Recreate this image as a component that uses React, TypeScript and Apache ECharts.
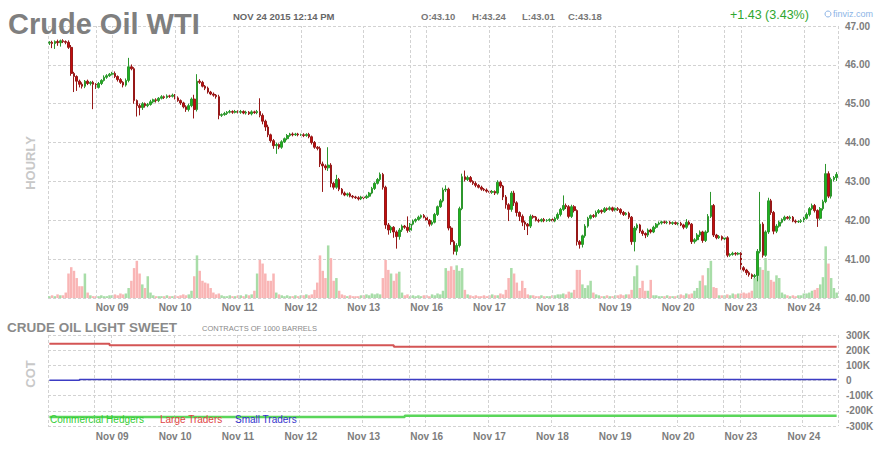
import React, { useEffect, useRef } from 'react';
import * as echarts from 'echarts';

const FONT = 'Arial, "Liberation Sans", Helvetica, sans-serif';

// trading sessions: [calendar date label, first hour, last hour]
const segments: [string, number, number][] = [
  ['Nov 06', 0, 16], ['Nov 08', 18, 23],
  ['Nov 09', 0, 16], ['Nov 09', 18, 23],
  ['Nov 10', 0, 16], ['Nov 10', 18, 23],
  ['Nov 11', 0, 16], ['Nov 11', 18, 23],
  ['Nov 12', 0, 16], ['Nov 12', 18, 23],
  ['Nov 13', 0, 16], ['Nov 15', 18, 23],
  ['Nov 16', 0, 16], ['Nov 16', 18, 23],
  ['Nov 17', 0, 16], ['Nov 17', 18, 23],
  ['Nov 18', 0, 16], ['Nov 18', 18, 23],
  ['Nov 19', 0, 16], ['Nov 19', 18, 23],
  ['Nov 20', 0, 16], ['Nov 22', 18, 23],
  ['Nov 23', 0, 16], ['Nov 23', 18, 23],
  ['Nov 24', 0, 12],
];

const firstOpen = 46.56;
const prevClose = 41.75;
const stamp = 'NOV 24 2015 12:14 PM';

// hourly closes
const closes = [
  // Nov 06
  46.58, 46.55, 46.60, 46.57, 46.62, 46.60, 46.58, 46.45, 45.78, 45.70, 45.58, 45.50, 45.45, 45.58, 45.52, 45.55, 45.50,
  // Nov 08 (Sun)
  45.42, 45.52, 45.60, 45.68, 45.72, 45.76,
  // Nov 09
  45.78, 45.70, 45.62, 45.55, 45.48, 45.60, 45.95, 45.90, 45.08, 44.95, 44.90, 45.00, 44.95, 44.98, 45.05, 45.10, 45.08, 45.14, 45.18, 45.16, 45.20, 45.19, 45.22,
  // Nov 10
  45.15, 45.08, 45.02, 44.92, 44.85, 44.95, 45.12, 44.85, 45.58, 45.55, 45.45, 45.40, 45.30, 45.25, 45.22, 45.18, 44.70, 44.72, 44.75, 44.78, 44.80, 44.78, 44.80,
  // Nov 11
  44.78, 44.80, 44.76, 44.78, 44.74, 44.79, 44.77, 44.80, 44.70, 44.55, 44.40, 44.20, 44.05, 43.92, 43.95, 43.88, 44.02, 44.10, 44.18, 44.22, 44.20, 44.22, 44.20,
  // Nov 12
  44.20, 44.18, 44.21, 44.15, 44.00, 43.88, 43.85, 43.45, 43.40, 43.35, 43.42, 42.95, 42.85, 43.05, 42.80, 42.70, 42.65, 42.68, 42.62, 42.60, 42.58, 42.55, 42.60,
  // Nov 13
  42.58, 42.62, 42.70, 42.82, 42.95, 43.05, 43.18, 42.85, 41.88, 41.75, 41.82, 41.70, 41.58, 41.75, 41.85, 41.82, 41.74,
  // Nov 15 (Sun)
  41.90, 41.98, 42.02, 42.08, 42.12, 42.08,
  // Nov 16
  42.00, 41.90, 41.95, 42.15, 42.35, 42.50, 42.78, 42.80, 41.80, 41.45, 41.20, 41.35, 42.30, 43.12, 43.05, 43.10, 43.00, 42.95, 42.90, 42.85, 42.80, 42.78, 42.75,
  // Nov 17
  42.72, 42.74, 42.70, 42.98, 42.88, 42.60, 42.40, 42.28, 42.70, 42.45, 42.20, 42.10, 41.95, 41.90, 41.85, 42.10, 42.08, 42.00, 41.98, 42.02, 41.99, 42.00, 42.02,
  // Nov 18
  41.98, 42.05, 42.15, 42.28, 42.38, 42.35, 42.10, 42.35, 42.25, 41.45, 41.38, 41.60, 41.85, 42.05, 42.12, 42.10, 42.20, 42.25, 42.22, 42.30, 42.28, 42.32, 42.26,
  // Nov 19
  42.30, 42.28, 42.20, 42.15, 42.18, 42.08, 41.45, 41.80, 41.88, 41.72, 41.66, 41.62, 41.75, 41.70, 41.82, 41.90, 41.93, 41.96, 41.94, 41.95, 41.92, 41.94, 41.91,
  // Nov 20
  41.92, 41.88, 41.82, 41.95, 41.90, 41.45, 41.50, 41.62, 41.70, 41.48, 41.70, 42.10, 42.38, 41.62, 41.55, 41.58, 41.52,
  // Nov 22 (Sun)
  41.55, 41.10, 41.12, 41.15, 41.13, 41.15,
  // Nov 23
  40.78, 40.72, 40.65, 40.60, 40.55, 40.58, 41.20, 41.90, 41.10, 41.70, 42.50, 42.20, 41.72, 41.85, 41.95, 42.02, 42.08, 42.05, 42.08, 41.98, 41.96, 41.97, 41.99,
  // Nov 24
  42.05, 42.15, 42.30, 42.38, 42.25, 42.05, 42.30, 42.48, 43.20, 42.62, 43.05, 43.10, 43.18,
];

// upper shadow above the body, in cents
const wickUp = [
  3, 4, 3, 5, 3, 4, 3, 5, 6, 4, 3, 4, 5, 3, 4, 3, 4,
  3, 4, 3, 5, 4, 3,
  4, 5, 3, 4, 3, 5, 23, 6, 4, 3, 5, 4, 3, 4, 5, 3, 4, 3, 4, 3, 4, 3, 4,
  3, 4, 3, 3, 4, 5, 4, 11, 18, 5, 4, 3, 4, 3, 4, 3, 5, 3, 4, 3, 4, 3, 4,
  3, 4, 3, 4, 3, 4, 3, 4, 34, 5, 4, 6, 3, 4, 5, 3, 4, 3, 4, 3, 4, 3, 3,
  3, 4, 3, 4, 3, 4, 3, 5, 6, 4, 46, 5, 4, 12, 4, 3, 4, 3, 4, 3, 3, 4, 3,
  3, 4, 3, 4, 3, 4, 5, 4, 4, 5, 4, 3, 4, 5, 4, 3, 28,
  3, 4, 3, 4, 3, 4,
  4, 3, 5, 4, 3, 5, 6, 10, 4, 5, 4, 6, 5, 8, 16, 5, 4, 3, 5, 3, 4, 3, 4,
  3, 4, 3, 5, 4, 3, 5, 4, 5, 6, 4, 3, 5, 4, 3, 5, 4, 3, 4, 3, 4, 3, 3,
  3, 4, 5, 4, 26, 5, 4, 5, 4, 3, 4, 3, 5, 4, 3, 4, 5, 4, 3, 4, 3, 4, 3,
  3, 4, 3, 4, 3, 4, 3, 5, 4, 3, 4, 3, 4, 3, 4, 3, 4, 3, 3, 4, 3, 3, 3,
  3, 4, 3, 8, 4, 3, 4, 5, 4, 3, 4, 6, 35, 4, 3, 4, 3,
  3, 4, 3, 4, 3, 3,
  3, 4, 3, 4, 3, 4, 6, 83, 5, 4, 8, 5, 4, 5, 4, 3, 4, 3, 4, 3, 4, 3, 4,
  4, 5, 4, 5, 4, 3, 4, 5, 25, 6, 5, 4, 6,
];

// lower shadow below the body, in cents
const wickDn = [
  5, 12, 14, 8, 10, 4, 5, 4, 6, 40, 25, 8, 6, 5, 4, 5, 64,
  4, 3, 4, 3, 4, 3,
  3, 4, 5, 4, 6, 4, 5, 4, 8, 28, 20, 6, 5, 4, 3, 4, 5, 4, 3, 4, 3, 4, 3,
  4, 3, 5, 4, 6, 5, 4, 23, 5, 4, 3, 5, 4, 3, 4, 5, 10, 4, 3, 4, 3, 4, 3,
  3, 4, 3, 4, 3, 4, 3, 4, 5, 8, 10, 6, 5, 8, 21, 5, 4, 3, 4, 3, 4, 3, 4,
  3, 4, 3, 4, 5, 4, 5, 8, 67, 6, 8, 10, 6, 4, 5, 4, 3, 4, 3, 4, 3, 4, 3,
  4, 3, 4, 3, 4, 3, 4, 6, 10, 12, 8, 15, 31, 8, 5, 4, 6,
  4, 3, 4, 3, 4, 3,
  5, 6, 4, 3, 4, 3, 4, 5, 6, 8, 8, 10, 5, 4, 5, 4, 3, 4, 5, 3, 4, 3, 4,
  3, 4, 5, 4, 5, 8, 10, 30, 6, 8, 10, 12, 10, 15, 23, 5, 4, 3, 4, 3, 4, 3, 4,
  4, 3, 4, 5, 4, 6, 5, 4, 5, 10, 11, 8, 5, 4, 3, 4, 3, 4, 5, 3, 4, 3, 4,
  3, 4, 5, 4, 3, 5, 8, 25, 6, 5, 6, 8, 5, 4, 3, 4, 3, 4, 3, 4, 3, 4, 3,
  4, 3, 5, 4, 3, 6, 5, 4, 5, 6, 4, 3, 4, 5, 4, 3, 4,
  4, 5, 4, 3, 4, 3,
  5, 4, 6, 5, 6, 4, 15, 5, 6, 4, 5, 6, 8, 5, 4, 3, 4, 3, 4, 3, 4, 3, 4,
  4, 3, 5, 4, 5, 22, 4, 5, 4, 5, 6, 5, 9,
];

// hourly volume, thousands of contracts
const volumes = [
  2, 3, 2, 4, 3, 3, 6, 27, 34, 30, 22, 13, 13, 27, 6, 3, 2,
  2, 2, 3, 2, 2, 3,
  3, 4, 3, 5, 4, 5, 11, 19, 33, 41, 27, 15, 11, 24, 6, 3, 2, 2, 2, 2, 3, 2, 2,
  3, 2, 3, 4, 3, 4, 8, 24, 47, 30, 19, 17, 16, 11, 6, 4, 5, 3, 2, 2, 3, 2, 2,
  3, 3, 2, 4, 3, 4, 8, 27, 42, 38, 27, 19, 19, 27, 6, 4, 3, 2, 3, 2, 2, 3, 2,
  3, 3, 4, 3, 4, 9, 17, 47, 30, 22, 58, 44, 19, 22, 8, 4, 3, 2, 3, 2, 2, 2, 3,
  3, 4, 3, 5, 4, 5, 4, 22, 42, 31, 27, 19, 27, 29, 6, 3, 4,
  2, 3, 2, 3, 2, 3,
  3, 2, 4, 3, 5, 4, 8, 33, 30, 35, 31, 36, 30, 33, 9, 4, 3, 2, 3, 2, 2, 3, 2,
  3, 4, 3, 3, 5, 4, 9, 22, 33, 27, 17, 8, 19, 11, 4, 3, 3, 2, 2, 3, 2, 2, 2,
  3, 3, 4, 4, 5, 4, 7, 6, 9, 31, 31, 15, 11, 14, 19, 6, 4, 3, 2, 2, 3, 2, 2,
  3, 3, 4, 3, 4, 4, 9, 24, 36, 11, 19, 8, 8, 20, 3, 3, 2, 2, 2, 3, 2, 2, 2,
  3, 4, 3, 5, 4, 5, 8, 11, 19, 25, 14, 33, 41, 12, 11, 3, 3,
  3, 4, 3, 5, 4, 5,
  5, 6, 5, 6, 8, 22, 40, 34, 31, 44, 30, 20, 18, 25, 22, 6, 4, 3, 2, 3, 2, 3, 3,
  5, 5, 6, 8, 9, 11, 15, 23, 57, 38, 22, 11, 6,
];

// COT positions (contracts), step changes at the given bar
const cotLarge: [string, number][] = [['Nov 06 00:00', 242000], ['Nov 08 23:00', 232000], ['Nov 13 11:00', 223000], ['Nov 24 12:00', 223000]];
const cotSmall: [string, number][] = [['Nov 06 00:00', 1000], ['Nov 06 11:00', 7000], ['Nov 24 12:00', 7000]];
const cotCommercial: [string, number][] = [['Nov 06 00:00', -240000], ['Nov 13 15:00', -233000], ['Nov 24 12:00', -233000]];

const priceMin = 40, priceMax = 47, priceStep = 1;
const cotMin = -300000, cotMax = 300000, cotStep = 100000;
const volMax = 300;

const GRID = '#d2d2d2';
const DASH = [3, 2];
const UP = '#1db51d';
const DOWN = '#c40d0d';

// plot frames (layout)
const P1 = { left: 48, top: 26, width: 790, height: 272 };
const P2 = { left: 48, top: 335, width: 790, height: 91 };

const categories: string[] = [];
const hourOf: number[] = [];
const dateOf: string[] = [];
segments.forEach(([d, h0, h1]) => {
  for (let h = h0; h <= h1; h++) {
    categories.push(`${d} ${String(h).padStart(2, '0')}:00`);
    hourOf.push(h);
    dateOf.push(d);
  }
});
const labelSet = new Set<number>();
const splitIdx: number[] = [];
hourOf.forEach((h, i) => {
  if (h === 0 && i > 0) { labelSet.add(i); splitIdx.push(i); }
  if (h === 18 && i > 0 && dateOf[i - 1] !== dateOf[i]) splitIdx.push(i);
});

const r2 = (v: number) => Math.round(v * 100) / 100;
const candles = closes.map((c, i) => {
  const o = i === 0 ? firstOpen : closes[i - 1];
  return [o, c, r2(Math.min(o, c) - wickDn[i] / 100), r2(Math.max(o, c) + wickUp[i] / 100)];
});
const last = candles[candles.length - 1];
const change = last[1] - prevClose;
const changePct = (change / prevClose) * 100;

const cotPts = (arr: [string, number][]) => arr.map(([n, v]) => [categories.indexOf(n), v]);

const axisLabelStyle = { color: '#7d7d7d', fontSize: 10, fontWeight: 'bold' as const, fontFamily: FONT };

const xAxisBase = (gridIndex: number, margin: number) => ({
  type: 'category' as const,
  gridIndex,
  data: categories,
  boundaryGap: true,
  axisLine: { show: false },
  axisTick: { show: false },
  axisLabel: {
    ...axisLabelStyle,
    margin,
    interval: (i: number) => labelSet.has(i),
    formatter: (v: string) => v.slice(0, 6),
  },
  splitLine: { show: false },
});

const vLine = (x: number, top: number, height: number) => ({
  type: 'line', silent: true, z: 0,
  shape: { x1: x, y1: top, x2: x, y2: top + height },
  style: { stroke: GRID, lineWidth: 1, lineDash: DASH },
});

const frameSides = (p: { left: number; top: number; width: number; height: number }) =>
  [p.left + 0.5, p.left + p.width + 0.5].map((x) => vLine(x, p.top, p.height));

const txt = (x: number, y: number, text: string, font: string, fill: string, extra: any = {}) => ({
  type: 'text', x, y, silent: true, z: 10,
  style: { text, font, fill, align: 'left', verticalAlign: 'middle' },
  ...extra,
});

const baseGraphics: any[] = [
  ...frameSides(P1),
  ...frameSides(P2),
  txt(8, 24, 'Crude Oil WTI', `bold 29px ${FONT}`, '#7f7f7f'),
  txt(233, 16, stamp, `bold 9.5px ${FONT}`, '#666666'),
  txt(421, 16, `O:${last[0].toFixed(2)}`, `bold 9.5px ${FONT}`, '#777777'),
  txt(472, 16, `H:${last[3].toFixed(2)}`, `bold 9.5px ${FONT}`, '#777777'),
  txt(522, 16, `L:${last[2].toFixed(2)}`, `bold 9.5px ${FONT}`, '#777777'),
  txt(568, 16, `C:${last[1].toFixed(2)}`, `bold 9.5px ${FONT}`, '#777777'),
  txt(730, 15, `${change >= 0 ? '+' : ''}${change.toFixed(2)} (${changePct.toFixed(2)}%)`, `12.5px ${FONT}`, '#2ea62e'),
  { type: 'circle', silent: true, z: 10, shape: { cx: 828, cy: 14, r: 3 }, style: { fill: 'none', stroke: '#8cb4e6', lineWidth: 1 } },
  txt(833, 14, 'finviz.com', `9px ${FONT}`, '#8cb4e6'),
  txt(30, 163, 'HOURLY', `bold 13px ${FONT}`, '#c8c8c8', { rotation: Math.PI / 2, style: { text: 'HOURLY', font: `bold 13px ${FONT}`, fill: '#c8c8c8', align: 'center', verticalAlign: 'middle' } }),
  txt(7, 327, 'CRUDE OIL LIGHT SWEET', `bold 13.5px ${FONT}`, '#8a8a8a'),
  txt(202, 328.5, 'CONTRACTS OF 1000 BARRELS', `7.5px ${FONT}`, '#8a8a8a'),
  txt(30.5, 374, 'COT', `bold 13px ${FONT}`, '#c8c8c8', { rotation: Math.PI / 2, style: { text: 'COT', font: `bold 13px ${FONT}`, fill: '#c8c8c8', align: 'center', verticalAlign: 'middle' } }),
  txt(50, 419, 'Commercial Hedgers', `10px ${FONT}`, '#33cc33'),
  txt(160, 419, 'Large Traders', `10px ${FONT}`, '#e04444'),
  txt(235, 419, 'Small Traders', `10px ${FONT}`, '#3333cc'),
];

export default function App() {
  const ref = useRef<HTMLDivElement>(null);
  useEffect(() => {
    document.body.style.margin = '0';
    const chart = echarts.init(ref.current!, undefined, { renderer: 'svg', width: 880, height: 450 });
    const option: any = {
      animation: false,
      backgroundColor: '#ffffff',
      textStyle: { fontFamily: FONT },
      grid: [
        { left: P1.left, width: P1.width, top: P1.top, height: P1.height },
        { left: P2.left, width: P2.width, top: P2.top, height: P2.height },
      ],
      xAxis: [xAxisBase(0, 4), xAxisBase(1, 5)],
      yAxis: [
        {
          type: 'value', gridIndex: 0, position: 'right', min: priceMin, max: priceMax, interval: priceStep,
          axisLine: { show: false }, axisTick: { show: false },
          axisLabel: { ...axisLabelStyle, margin: 7, formatter: (v: number) => v.toFixed(2) },
          splitLine: { lineStyle: { color: GRID, type: DASH } },
        },
        { type: 'value', gridIndex: 0, min: 0, max: volMax, show: false, splitLine: { show: false } },
        {
          type: 'value', gridIndex: 1, position: 'right', min: cotMin, max: cotMax, interval: cotStep,
          axisLine: { show: false }, axisTick: { show: false },
          axisLabel: { ...axisLabelStyle, margin: 8, formatter: (v: number) => (v === 0 ? '0' : `${v / 1000}K`) },
          splitLine: { lineStyle: { color: GRID, type: DASH } },
        },
      ],
      series: [
        {
          type: 'bar', xAxisIndex: 0, yAxisIndex: 1, silent: true, barCategoryGap: '8%', z: 1,
          data: volumes.map((v, i) => ({
            value: v,
            itemStyle: { color: candles[i][1] >= candles[i][0] ? '#a8dda8' : '#f9b5b5' },
          })),
          markLine: {
            silent: true, symbol: 'none',
            label: { show: false },
            lineStyle: { color: GRID, type: DASH, width: 1 },
            data: splitIdx.map((i) => ({ xAxis: i })),
          },
        },
        {
          type: 'candlestick', xAxisIndex: 0, yAxisIndex: 0, silent: true, barWidth: '78%', z: 3,
          data: candles,
          itemStyle: { color: UP, color0: DOWN, borderColor: '#2c962c', borderColor0: '#961818', borderWidth: 1 },
          markLine: {
            silent: true, symbol: 'none',
            lineStyle: { opacity: 0 },
            label: {
              show: true, position: 'end', distance: 7,
              formatter: last[1].toFixed(2),
              backgroundColor: '#ffff00', color: '#444', fontWeight: 'bold', fontSize: 10, fontFamily: FONT,
              padding: [1, 2, 1, 1],
            },
            data: [{ yAxis: last[1] }],
          },
        },
        {
          type: 'line', xAxisIndex: 1, yAxisIndex: 2, step: 'end', showSymbol: false, silent: true, z: 3,
          data: cotPts(cotCommercial), lineStyle: { color: '#5ad65a', width: 2.5 },
        },
        {
          type: 'line', xAxisIndex: 1, yAxisIndex: 2, step: 'end', showSymbol: false, silent: true, z: 3,
          data: cotPts(cotLarge), lineStyle: { color: '#d45555', width: 2 },
        },
        {
          type: 'line', xAxisIndex: 1, yAxisIndex: 2, step: 'end', showSymbol: false, silent: true, z: 3,
          data: cotPts(cotSmall), lineStyle: { color: '#3c3cc4', width: 1.5 },
        },
      ],
      graphic: baseGraphics,
    };
    chart.setOption(option);
    // vertical grid lines of the COT panel at the band edges, positioned through the category axis
    try {
      const c0 = chart.convertToPixel({ xAxisIndex: 1 }, 0) as unknown as number;
      const c1 = chart.convertToPixel({ xAxisIndex: 1 }, 1) as unknown as number;
      const band = c1 - c0;
      const lower = splitIdx.map((i) => {
        const cx = chart.convertToPixel({ xAxisIndex: 1 }, i) as unknown as number;
        return vLine(Math.round(cx - band / 2) + 0.5, P2.top, P2.height);
      });
      chart.setOption({ graphic: [...baseGraphics, ...lower] });
    } catch (e) {
      // keep the chart as drawn
    }
    return () => chart.dispose();
  }, []);
  return <div ref={ref} style={{ width: 880, height: 450, position: 'absolute', left: 0, top: 0 }} />;
}
